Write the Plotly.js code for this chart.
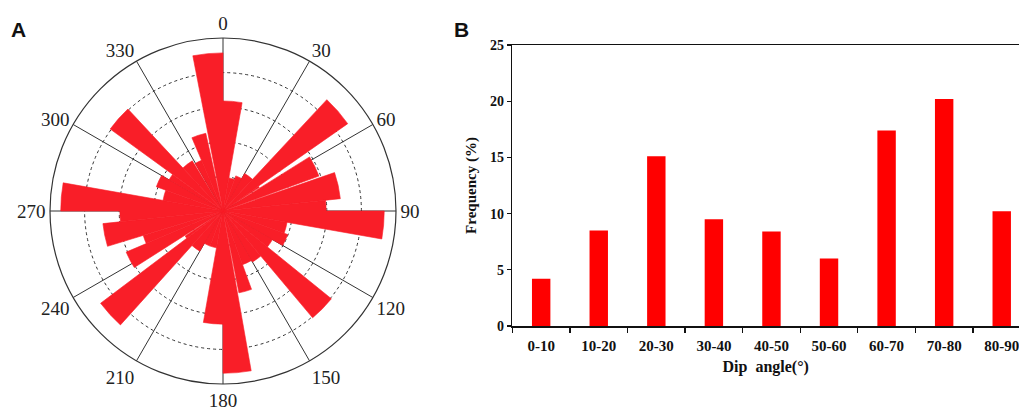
<!DOCTYPE html>
<html>
<head>
<meta charset="utf-8">
<script src="https://cdn.plot.ly/plotly-3.0.1.min.js"></script>
<style>html,body{margin:0;padding:0;background:#fff;}#chart{width:1019px;height:412px;}</style>
</head>
<body>
<div id="chart"></div>
<script>
// Panel A: rose diagram (angular class start/end in degrees, petal length in ring units)
const sectorStart = [0,10,20,30,43,55,58,71,84,90,100,110,120,129,140,150,160,170,180,190,200,210,222,233,237.5,247,253,264,270,280,290,300,306,317,329.5,337,349];
const sectorEnd   = [10,20,30,43,55,57,70,84,90,100,110,120,129,140,150,160,169,180,190,200,210,222,233,236.5,247,253,264,270,280,290,300,306,317,328.5,337,347.5,360];
const petalLength = [3.18,0.97,1.08,1.25,4.40,1.25,2.95,3.41,2.98,4.66,1.88,1.99,1.65,4.03,1.70,1.65,2.41,4.69,3.27,1.08,1.08,1.34,4.43,1.31,3.04,2.41,3.49,2.98,4.69,1.76,2.05,1.80,4.03,1.70,1.59,2.30,4.57];
const angleTicks = [0,30,60,90,120,150,180,210,240,270,300,330];
const angleTickLabels = ["0","30","60","90","120","150","180","210","240","270","300","330"];

// Panel B: dip angle frequency
const dipCategories = ["0-10","10-20","20-30","30-40","40-50","50-60","60-70","70-80","80-90"];
const dipFrequency = [4.2,8.5,15.1,9.5,8.4,6.0,17.4,20.2,10.2];

const serif = "Liberation Serif, Times New Roman, serif";

const petalTheta = sectorStart.map((s, i) => (s + sectorEnd[i]) / 2);
const petalWidth = sectorStart.map((s, i) => sectorEnd[i] - s);

const traces = [
  {
    type: "barpolar",
    r: petalLength,
    theta: petalTheta,
    width: petalWidth,
    marker: {color: "#f91e28", line: {width: 0.6, color: "#f91e28"}},
    subplot: "polar",
    hoverinfo: "skip"
  },
  {
    type: "bar",
    x: dipCategories,
    y: dipFrequency,
    width: 0.32,
    marker: {color: "#ff0000", line: {width: 0}},
    xaxis: "x",
    yaxis: "y",
    hoverinfo: "skip"
  }
];

const layout = {
  width: 1019,
  height: 412,
  margin: {l: 0, r: 0, t: 0, b: 0},
  paper_bgcolor: "#ffffff",
  plot_bgcolor: "#ffffff",
  showlegend: false,
  polar: {
    domain: {x: [50/1019, 396/1019], y: [28/412, 374/412]},
    bgcolor: "#ffffff",
    radialaxis: {
      range: [0, 5],
      tickvals: [1, 2, 3, 4],
      showticklabels: false,
      ticks: "",
      showline: false,
      gridcolor: "#333333",
      gridwidth: 1,
      griddash: "dot",
      layer: "below traces"
    },
    angularaxis: {
      rotation: 90,
      direction: "clockwise",
      tickvals: angleTicks,
      ticktext: angleTickLabels,
      tickfont: {family: serif, size: 19, color: "#222222"},
      ticks: "",
      showline: true,
      linecolor: "#333333",
      linewidth: 1.2,
      showgrid: true,
      gridcolor: "#333333",
      gridwidth: 1,
      layer: "below traces"
    }
  },
  xaxis: {
    domain: [512.4/1019, 1],
    type: "category",
    range: [-0.5, 8.3],
    showline: true,
    linecolor: "#111111",
    linewidth: 1.5,
    mirror: true,
    ticks: "outside",
    tickson: "boundaries",
    ticklen: 5,
    tickcolor: "#111111",
    tickwidth: 1.2,
    ticklabelstandoff: 5,
    showgrid: false,
    zeroline: false,
    tickfont: {family: serif, size: 15, color: "#111111", weight: "bold"},
    title: {text: "<b>Dip\u00a0 angle(°)</b>", font: {family: serif, size: 16, color: "#111111"}, standoff: 8}
  },
  yaxis: {
    domain: [86/412, 367/412],
    range: [0, 25],
    dtick: 5,
    showline: true,
    linecolor: "#111111",
    linewidth: 1.5,
    ticks: "outside",
    ticklen: 4,
    tickcolor: "#111111",
    tickwidth: 1.2,
    showgrid: false,
    zeroline: false,
    tickfont: {family: serif, size: 14, color: "#111111", weight: "bold"},
    title: {text: "<b>Frequency (%)</b>", font: {family: serif, size: 15, color: "#111111"}, standoff: 10}
  },
  annotations: [
    {text: "<b>A</b>", x: 18/1019, y: 1 - 30/412, xref: "paper", yref: "paper", xanchor: "center", yanchor: "middle", showarrow: false, font: {family: "Liberation Sans, Arial, sans-serif", size: 21, color: "#111111"}},
    {text: "<b>B</b>", x: 461/1019, y: 1 - 30/412, xref: "paper", yref: "paper", xanchor: "center", yanchor: "middle", showarrow: false, font: {family: "Liberation Sans, Arial, sans-serif", size: 21, color: "#111111"}}
  ]
};

Plotly.newPlot("chart", traces, layout, {displayModeBar: false, staticPlot: true});
</script>
</body>
</html>
